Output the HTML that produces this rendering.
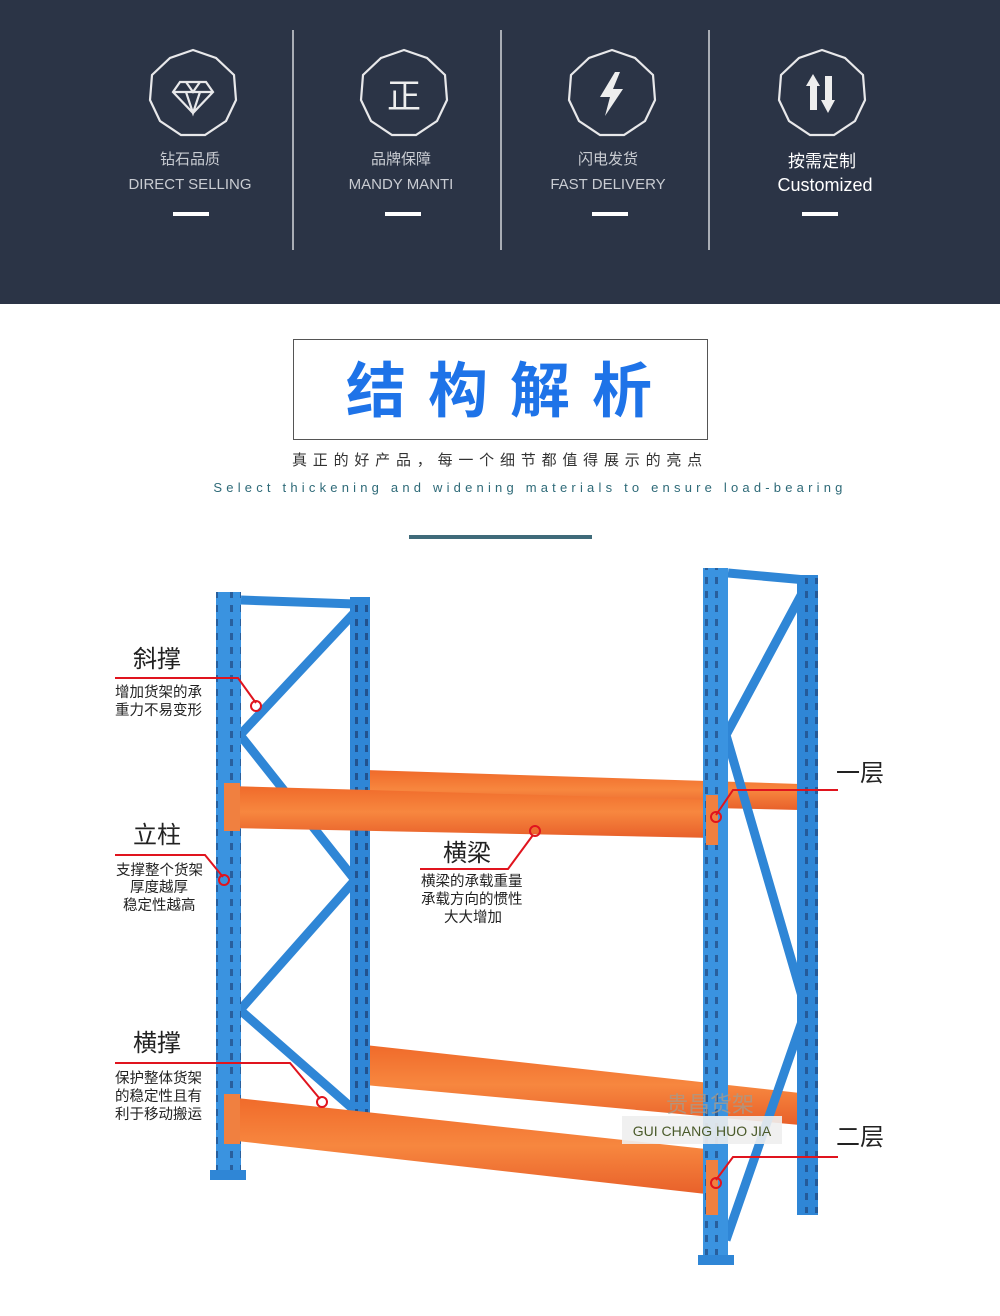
<!DOCTYPE html>
<html><head><meta charset="utf-8"><style>
body{margin:0;width:1000px;height:1316px;background:#fff;overflow:hidden;font-family:"Liberation Sans","Noto Sans CJK SC",sans-serif}
</style></head><body>
<svg width="1000" height="1316" xmlns="http://www.w3.org/2000/svg" style="position:absolute;left:0;top:0">
<defs>
<linearGradient id="ob" x1="0" y1="0" x2="0" y2="1"><stop offset="0" stop-color="#f06a2a"/><stop offset="0.5" stop-color="#f7873f"/><stop offset="1" stop-color="#e8602a"/></linearGradient>
<pattern id="holes" width="25" height="14" patternUnits="userSpaceOnUse"><rect x="5" y="3" width="3" height="7" fill="#1c3d70"/><rect x="15" y="3" width="3" height="7" fill="#1c3d70"/></pattern>
</defs>
<rect x="0" y="0" width="1000" height="304" fill="#2b3446"/>
<g stroke="#a9adb5" stroke-width="2"><line x1="293" y1="30" x2="293" y2="250"/><line x1="501" y1="30" x2="501" y2="250"/><line x1="709" y1="30" x2="709" y2="250"/></g>
<g fill="none" stroke="#e8e8ea" stroke-width="2.2">
<polygon points="193,50 216,58 234,75 236,100 226,121 205,135 181,135 160,121 150,100 152,75 170,58"/>
<polygon points="404,50 427,58 445,75 447,100 437,121 416,135 392,135 371,121 361,100 363,75 381,58"/>
<polygon points="612,50 635,58 653,75 655,100 645,121 624,135 600,135 579,121 569,100 571,75 589,58"/>
<polygon points="822,50 845,58 863,75 865,100 855,121 834,135 810,135 789,121 779,100 781,75 799,58"/>
<path d="M180,82 L206,82 L213,92 L193,113 L173,92 Z M173,92 L213,92 M186,82 L193,92 L200,82 M186,92 L193,113 L200,92"/>
</g>
<text x="404" y="108" fill="#eee" font-size="34" text-anchor="middle">正</text>
<polygon points="615,72 600,97 610,97 605,116 623,89 613,89 620,72" fill="#eee"/>
<g fill="#eee"><rect x="810" y="82" width="7" height="28"/><polygon points="806,86 813,74 820,86"/><rect x="825" y="76" width="7" height="28"/><polygon points="821,100 835,100 828,113"/></g>
<g fill="#c9ccd2" font-size="15" text-anchor="middle">
<text x="190" y="164">钻石品质</text><text x="190" y="189">DIRECT SELLING</text>
<text x="401" y="164">品牌保障</text><text x="401" y="189">MANDY MANTI</text>
<text x="608" y="164">闪电发货</text><text x="608" y="189">FAST DELIVERY</text>
</g>
<g fill="#fff" text-anchor="middle"><text x="822" y="167" font-size="17">按需定制</text><text x="825" y="191" font-size="18">Customized</text></g>
<g fill="#fff"><rect x="173" y="212" width="36" height="4"/><rect x="385" y="212" width="36" height="4"/><rect x="592" y="212" width="36" height="4"/><rect x="802" y="212" width="36" height="4"/></g>
<rect x="293.5" y="339.5" width="414" height="100" fill="#fff" stroke="#555" stroke-width="1"/>
<text x="510" y="412" fill="#1e73e8" font-size="60" font-weight="bold" text-anchor="middle" letter-spacing="22">结构解析</text>
<text x="500" y="465" fill="#333" font-size="15" text-anchor="middle" letter-spacing="5.8">真正的好产品，每一个细节都值得展示的亮点</text>
<text x="530" y="492" fill="#2e6a78" font-size="13" text-anchor="middle" letter-spacing="4.2">Select thickening and widening materials to ensure load-bearing</text>
<rect x="409" y="535" width="183" height="4" fill="#3f6b7a"/>
<polygon points="365,770 800,784 800,810 365,800" fill="url(#ob)"/>
<polygon points="365,1045 800,1093 800,1125 365,1085" fill="url(#ob)"/>
<g stroke="#2f86d6" stroke-width="9" fill="none">
<line x1="241" y1="600" x2="355" y2="604"/>
<polyline points="357,610 240,735 355,880 240,1010 352,1108"/>
</g>
<rect x="350" y="597" width="20" height="521" fill="#2f86d6"/>
<rect x="353" y="600" width="25" height="515" fill="url(#holes)" opacity=".7"/>
<rect x="216" y="592" width="25" height="588" fill="#3a93e0"/>
<rect x="216" y="592" width="25" height="588" fill="url(#holes)" opacity=".6"/>
<rect x="210" y="1170" width="36" height="10" fill="#2f86d6"/>
<g stroke="#2f86d6" stroke-width="9" fill="none">
<line x1="728" y1="573" x2="806" y2="580"/>
<polyline points="806,586 726,735 806,1010 726,1240"/>
</g>
<rect x="797" y="575" width="21" height="640" fill="#2f86d6"/>
<rect x="797" y="578" width="25" height="635" fill="url(#holes)" opacity=".6"/>
<polygon points="228,786 715,800 715,838 228,828" fill="url(#ob)"/>
<rect x="224" y="783" width="16" height="48" fill="#f08040"/>
<polygon points="228,1097 715,1150 715,1195 228,1140" fill="url(#ob)"/>
<rect x="224" y="1094" width="16" height="50" fill="#f08040"/>
<rect x="703" y="568" width="25" height="697" fill="#3a93e0"/>
<rect x="703" y="568" width="25" height="697" fill="url(#holes)" opacity=".6"/>
<rect x="706" y="795" width="12" height="50" fill="#f08040"/>
<rect x="706" y="1160" width="12" height="55" fill="#f08040"/>
<rect x="698" y="1255" width="36" height="10" fill="#2f86d6"/>
<text x="710" y="1112" fill="#a89a8a" font-size="22" text-anchor="middle" opacity=".8">贵昌货架</text>
<rect x="622" y="1116" width="160" height="28" fill="#eeeeee" opacity=".9"/>
<text x="702" y="1136" fill="#4a5a2a" font-size="14" text-anchor="middle">GUI CHANG HUO JIA</text>
<g stroke="#e0141e" stroke-width="2" fill="none">
<polyline points="115,678 238,678 256,703"/><circle cx="256" cy="706" r="5"/>
<polyline points="115,855 205,855 223,877"/><circle cx="224" cy="880" r="5"/>
<polyline points="115,1063 290,1063 320,1099"/><circle cx="322" cy="1102" r="5"/>
<polyline points="420,869 508,869 533,835"/><circle cx="535" cy="831" r="5"/>
<polyline points="838,790 733,790 716,815"/><circle cx="716" cy="817" r="5"/>
<polyline points="838,1157 733,1157 716,1180"/><circle cx="716" cy="1183" r="5"/>
</g>
<g fill="#222">
<text x="133" y="667" font-size="24">斜撑</text>
<text x="115" y="697" font-size="14.5">增加货架的承</text><text x="115" y="715" font-size="14.5">重力不易变形</text>
<text x="133" y="843" font-size="24">立柱</text>
<text x="116" y="875" font-size="14.5">支撑整个货架</text><text x="130" y="892" font-size="14.5">厚度越厚</text><text x="123" y="910" font-size="14.5">稳定性越高</text>
<text x="133" y="1051" font-size="24">横撑</text>
<text x="115" y="1083" font-size="14.5">保护整体货架</text><text x="115" y="1101" font-size="14.5">的稳定性且有</text><text x="115" y="1119" font-size="14.5">利于移动搬运</text>
<text x="443" y="861" font-size="24">横梁</text>
<text x="421" y="886" font-size="14.5">横梁的承载重量</text><text x="421" y="904" font-size="14.5">承载方向的惯性</text><text x="444" y="922" font-size="14.5">大大增加</text>
<text x="836" y="781" font-size="24">一层</text>
<text x="836" y="1145" font-size="24">二层</text>
</g>
</svg>
</body></html>
